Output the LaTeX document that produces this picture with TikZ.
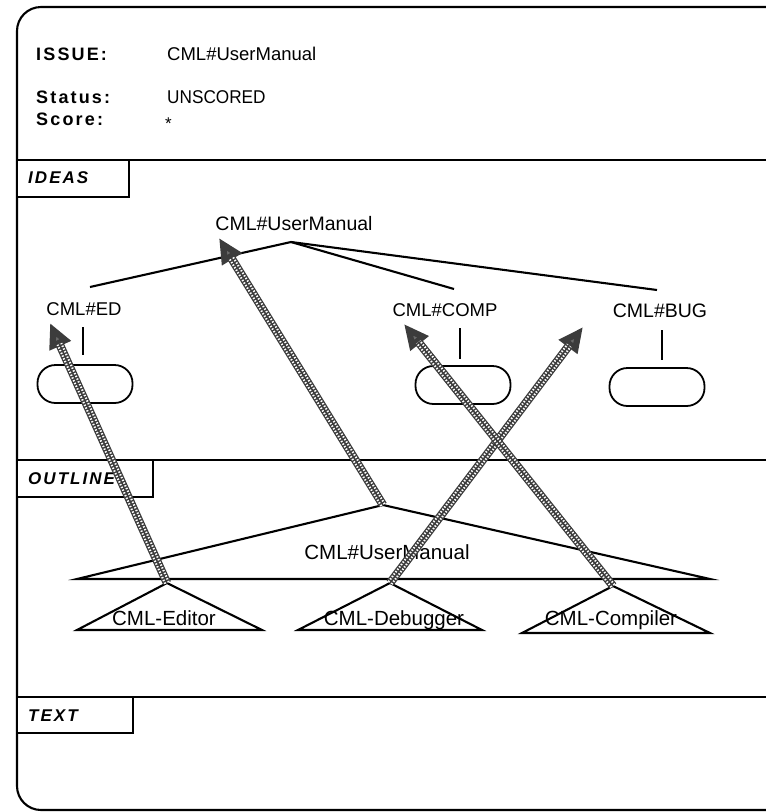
\documentclass[tikz,border=0pt]{standalone}
\usepackage{fontspec}
\setmainfont{Liberation Sans}
\newfontfamily\spacedfont[LetterSpace=12]{Liberation Sans}
\usepackage{tikz}
\usetikzlibrary{arrows.meta,positioning,calc}
\definecolor{inkgray}{RGB}{60,60,60}
\definecolor{headgray}{RGB}{105,105,105}

\begin{document}
\begin{tikzpicture}[x=1pt,y=-1pt, >=Stealth,
  line/.style={draw=black, line width=2.1pt},
  tab/.style={draw=black, line width=1.6pt, fill=white},
  tablabel/.style={font=\fontsize{17}{20}\selectfont\spacedfont\bfseries\itshape, anchor=west, inner sep=0pt},
  field/.style={font=\fontsize{18}{21}\selectfont\spacedfont\bfseries, anchor=west, inner sep=0pt},
  value/.style={font=\fontsize{18.5}{21}\selectfont, anchor=west, inner sep=0pt},
  idea/.style={font=\fontsize{19.5}{22}\selectfont, inner sep=0pt},
  part/.style={font=\fontsize{20.5}{23}\selectfont, inner sep=0pt},
  pill/.style={draw=black, line width=1.8pt, rounded corners=18pt, minimum width=95pt, minimum height=38pt},
  hatch/.style={line width=8.5pt, draw=inkgray, -{Triangle[length=25pt,width=22pt,fill=headgray]},
    postaction={draw=white, line width=6pt, dash pattern=on 1.4pt off 1.6pt, -, shorten >=23pt},
    postaction={draw=inkgray, line width=1.6pt, -, shorten >=23pt}}]
\useasboundingbox (0,0) rectangle (766,812);

% frame and sections
\draw[line, rounded corners=24pt] (766,7) -- (17,7) -- (17,810) -- (766,810);
\draw[line] (17,160) -- (766,160);
\draw[line] (17,460) -- (766,460);
\draw[line] (17,697) -- (766,697);
\draw[tab] (17,160) rectangle (129,197);
\draw[tab] (17,460) rectangle (153,497);
\draw[tab] (17,697) rectangle (133,733);
\node[tablabel] (ideasTab) at (28,178) {IDEAS};
\node[tablabel] (outlineTab) at (28,479) {OUTLINE};
\node[tablabel] (textTab) at (28,716) {TEXT};

% header
\node[field] (issueKey) at (36,54) {ISSUE:};
\node[value] (issueVal) at (167,54) {CML\#UserManual};
\node[field] (statusKey) at (36,97) {Status:};
\node[value, xscale=0.93] (statusVal) at (167,97) {UNSCORED};
\node[field] (scoreKey) at (36,119) {Score:};
\node[value, font=\fontsize{17}{20}\selectfont] (scoreVal) at (165,124) {*};

% ideas tree
\node[idea] (ideaRoot) at (294,224) {CML\#UserManual};
\coordinate (ideaTop) at (291,242);
\node[idea, font=\fontsize{18.5}{21}\selectfont] (ideaEd) at (84,309) {CML\#ED};
\node[idea, font=\fontsize{18.5}{21}\selectfont] (ideaComp) at (445,310) {CML\#COMP};
\node[idea] (ideaBug) at (660,311) {CML\#BUG};
\coordinate (edEnd) at (90,287);
\coordinate (compEnd) at (454,289);
\coordinate (bugEnd) at (657,290);
\draw[line] (ideaTop) -- (edEnd);
\draw[line] (ideaTop) -- (compEnd);
\draw[line] (ideaTop) -- (bugEnd);
\node[pill] (edPill) at (85,384) {};
\node[pill] (compPill) at (463,385) {};
\node[pill] (bugPill) at (657,387) {};
\draw[line, line width=1.6pt] (83,327) -- (83,355);
\draw[line, line width=1.6pt] (460,328) -- (460,359);
\draw[line, line width=1.6pt] (662,330) -- (662,360);

% outline
\coordinate (outTop) at (383,505);
\coordinate (outLeft) at (77,579);
\coordinate (outRight) at (710,579);
\draw[line] (outLeft) -- (outTop) -- (outRight) -- cycle;
\node[part] (outRoot) at (387,552) {CML\#UserManual};
\coordinate (editorTop) at (167,583);
\coordinate (debugTop) at (390,583);
\coordinate (compilTop) at (613,586);
\draw[line] (77,630) -- (editorTop) -- (262,630) -- cycle;
\draw[line] (298,630) -- (debugTop) -- (482,630) -- cycle;
\draw[line] (522,633) -- (compilTop) -- (710,633) -- cycle;
\node[part] (editor) at (164,618) {CML-Editor};
\node[part] (debugger) at (394,620) {CML-Debugger};
\node[part] (compiler) at (611,620) {CML-Compiler};

% links from outline to ideas
\coordinate (edTip) at (50,323);
\coordinate (rootTip) at (219,238);
\coordinate (bugTip) at (583,327);
\coordinate (compTip) at (404,324);
\draw[hatch] (editorTop) -- (edTip);
\draw[hatch] (outTop) -- (rootTip);
\draw[hatch] (debugTop) -- (bugTip);
\draw[hatch] (compilTop) -- (compTip);
\end{tikzpicture}
\end{document}
